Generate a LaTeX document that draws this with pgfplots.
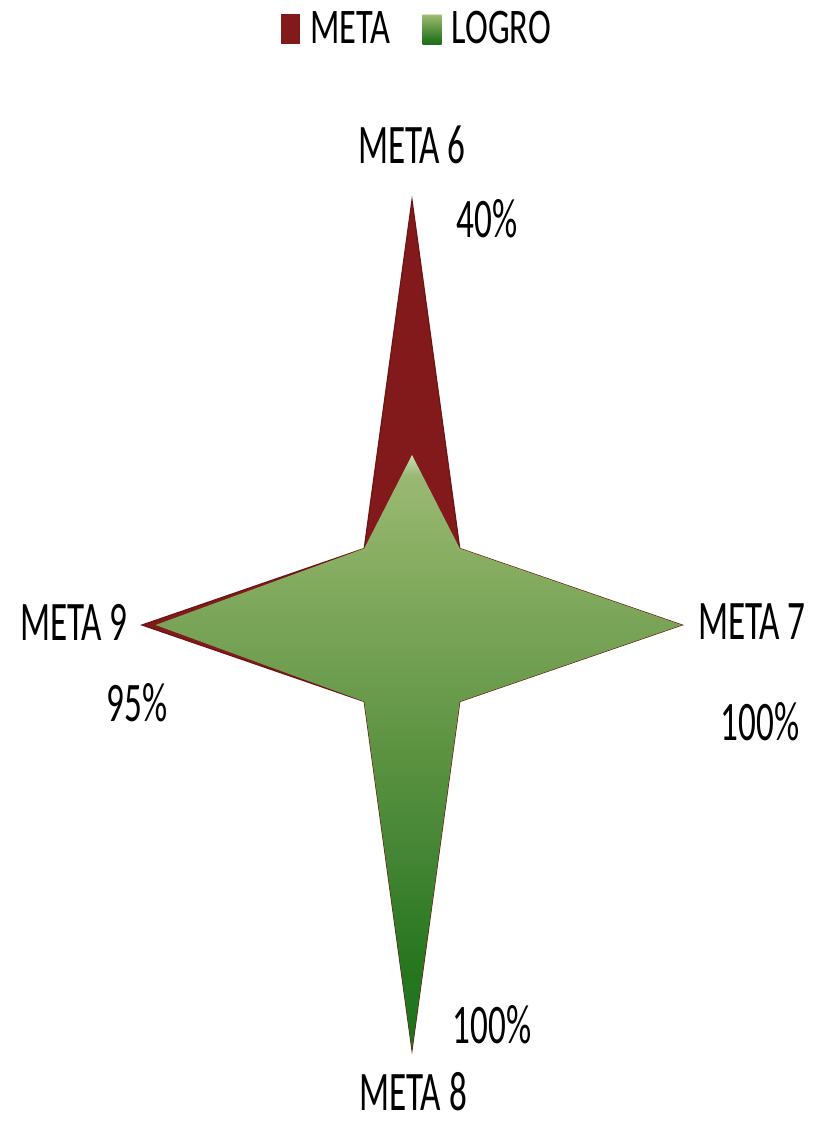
\documentclass[border=0pt]{standalone}
\usepackage{pgfplots}
\pgfplotsset{compat=1.18}
\usepackage{fontspec}
\setmainfont{Carlito}
\usepackage{graphicx}
\definecolor{metared}{HTML}{82191A}
\definecolor{metaedge}{HTML}{6E1414}
\definecolor{g0}{HTML}{1E721E}
\definecolor{g1}{HTML}{27771F}
\definecolor{g2}{HTML}{438534}
\definecolor{g3}{HTML}{5A9240}
\definecolor{g4}{HTML}{72A052}
\definecolor{g5}{HTML}{88AE62}
\definecolor{g6}{HTML}{9AB974}
\definecolor{g7}{HTML}{C8DDB0}
\pgfdeclareverticalshading{logro}{100bp}{color(0bp)=(g0); color(25bp)=(g0); color(32.4bp)=(g1); color(41.2bp)=(g2); color(49.6bp)=(g3); color(58.1bp)=(g4); color(66.5bp)=(g5); color(73.3bp)=(g6); color(75bp)=(g7); color(100bp)=(g7)}
\newcommand{\lab}[1]{\scalebox{0.63}[1]{\fontsize{28}{30}\selectfont #1}}
\begin{document}
\begin{tikzpicture}
\begin{axis}[
  scale only axis, width=405bp, height=561bp,
  xmin=-1.5259, xmax=1.4741, ymin=-1.1694, ymax=1.4706,
  hide axis, clip=false,
  legend columns=2,
  legend style={at={(axis description cs:0.516,0.974)}, anchor=center, draw=none, fill=none,
    font=\fontsize{25}{26}\selectfont,
    /tikz/every even column/.append style={column sep=14bp}},
  legend cell align=left,
  legend image code/.code={\path[#1,draw=none] (0bp,-7.5bp) rectangle (9.5bp,7.5bp);\path (12.5bp,0bp);},
]
\path (rel axis cs:0,0) rectangle (rel axis cs:1,1);
\addplot[fill=metared, draw=metaedge, line width=0.6pt] coordinates {
  (0,1) (0.177,0.18) (1,0) (0.177,-0.18) (0,-1) (-0.177,-0.18) (-1,0) (-0.177,0.18)} -- cycle;
\addlegendentry{\scalebox{0.69}[1]{META}}
\addplot[draw=none, shading=logro] coordinates {
  (0,0.40) (0.177,0.18) (1,0) (0.177,-0.18) (0,-1) (-0.177,-0.18) (-0.95,0) (-0.177,0.18)} -- cycle;
\addlegendentry{\scalebox{0.69}[1]{LOGRO}}
\node at (axis cs:0,1.129) {\lab{META 6}};
\node at (axis cs:0.278,0.955) {\lab{40\%}};
\node at (axis cs:1.259,0.007) {\lab{META 7}};
\node at (axis cs:1.289,-0.228) {\lab{100\%}};
\node at (axis cs:0.296,-0.941) {\lab{100\%}};
\node at (axis cs:0.004,-1.097) {\lab{META 8}};
\node at (axis cs:-1.252,0.007) {\lab{META 9}};
\node at (axis cs:-1.0185,-0.184) {\lab{95\%}};
\end{axis}
\end{tikzpicture}
\end{document}
